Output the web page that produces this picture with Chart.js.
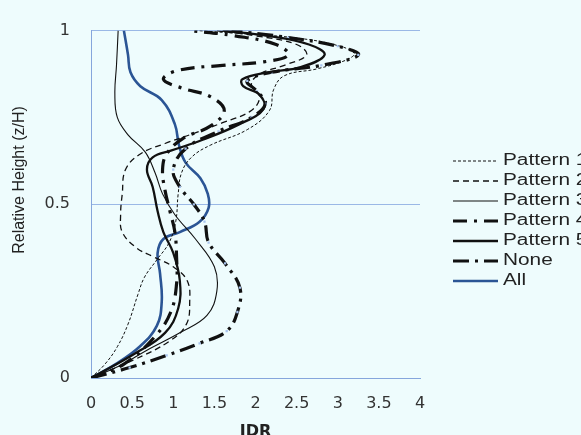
<!DOCTYPE html>
<html>
<head>
<meta charset="utf-8">
<script src="https://cdn.jsdelivr.net/npm/chart.js@4.4.0/dist/chart.umd.min.js"></script>
<style>
  html, body { margin: 0; padding: 0; width: 581px; height: 435px; overflow: hidden; background: #eefcfd; }
  #wrap { width: 600px; height: 445px; }
</style>
</head>
<body>
<div id="wrap"><canvas id="chart0" width="600" height="445"></canvas></div>
<script>
// profiles: [IDR, relative height z/H]
const seriesNames = ['Pattern 1', 'Pattern 2', 'Pattern 3', 'Pattern 4', 'Pattern 5', 'None', 'All'];

const pattern1 = [[0,0],[0.17,0.04],[0.32,0.09],[0.45,0.155],[0.57,0.24],[0.65,0.29],[0.8,0.34],[0.95,0.39],[1.03,0.45],[1.06,0.53],[1.1,0.59],[1.22,0.635],[1.45,0.67],[1.9,0.715],[2.17,0.77],[2.22,0.83],[2.35,0.87],[2.75,0.89],[3.1,0.915],[3.2,0.935],[2.95,0.96],[2.45,0.98],[1.9,0.99],[1.3,1.0]];
const pattern2 = [[0,0],[0.5,0.05],[0.96,0.107],[1.16,0.155],[1.2,0.22],[1.17,0.28],[1.0,0.32],[0.75,0.35],[0.55,0.375],[0.38,0.42],[0.36,0.47],[0.38,0.53],[0.42,0.6],[0.6,0.645],[0.9,0.675],[1.2,0.7],[1.6,0.735],[1.95,0.77],[2.05,0.81],[1.95,0.845],[2.05,0.875],[2.35,0.9],[2.62,0.93],[2.5,0.96],[2.0,0.985],[1.5,1.0]];
const pattern3 = [[0,0],[0.35,0.035],[0.68,0.08],[1.08,0.13],[1.41,0.18],[1.53,0.25],[1.5,0.32],[1.27,0.4],[1.02,0.47],[0.87,0.53],[0.78,0.59],[0.66,0.65],[0.45,0.7],[0.32,0.75],[0.29,0.82],[0.31,0.9],[0.33,1.0]];
const pattern4 = [[0,0],[0.4,0.04],[0.78,0.12],[0.97,0.19],[1.04,0.27],[1.04,0.35],[1.02,0.42],[0.96,0.48],[0.9,0.54],[0.87,0.6],[0.92,0.645],[1.12,0.69],[1.45,0.725],[1.62,0.77],[1.45,0.81],[1.1,0.835],[0.88,0.86],[1.05,0.885],[1.6,0.9],[2.1,0.91],[2.4,0.93],[2.25,0.96],[1.75,0.985],[1.2,1.0]];
const pattern5 = [[0,0],[0.53,0.07],[0.9,0.13],[1.06,0.2],[1.08,0.28],[1.0,0.36],[0.88,0.42],[0.81,0.48],[0.75,0.55],[0.68,0.6],[0.75,0.635],[0.98,0.655],[1.35,0.685],[1.8,0.73],[2.1,0.775],[2.05,0.815],[1.85,0.84],[1.84,0.86],[2.15,0.88],[2.55,0.895],[2.84,0.93],[2.65,0.96],[2.15,0.985],[1.6,1.0]];
const noneSeries = [[0,0],[0.47,0.03],[0.92,0.065],[1.32,0.1],[1.65,0.135],[1.78,0.19],[1.81,0.26],[1.63,0.33],[1.43,0.39],[1.38,0.45],[1.25,0.5],[1.08,0.55],[1.0,0.6],[1.15,0.66],[1.55,0.71],[1.95,0.75],[2.12,0.79],[2.02,0.825],[1.9,0.855],[2.2,0.88],[2.8,0.9],[3.25,0.93],[3.0,0.955],[2.4,0.98],[1.7,1.0]];
const allSeries = [[0,0],[0.3,0.04],[0.59,0.09],[0.8,0.15],[0.86,0.22],[0.84,0.3],[0.81,0.36],[0.88,0.4],[1.08,0.42],[1.32,0.45],[1.43,0.49],[1.42,0.53],[1.33,0.575],[1.15,0.62],[1.07,0.67],[1.02,0.73],[0.86,0.8],[0.6,0.84],[0.48,0.88],[0.45,0.93],[0.4,1.0]];

const xTicks = [0, 0.5, 1, 1.5, 2, 2.5, 3, 3.5, 4];
const yTicks = [0, 0.5, 1];

const toPts = arr => arr.map(p => ({ x: p[0], y: p[1] }));

function line(label, data, width, dash, color) {
  return {
    label: label,
    data: toPts(data),
    showLine: true,
    tension: 0.4,
    borderColor: color || '#111',
    borderWidth: width,
    borderDash: dash,
    pointRadius: 0,
    fill: false
  };
}

const datasets = [
  line(seriesNames[0], pattern1, 1, [3, 2]),
  line(seriesNames[1], pattern2, 1.3, [6, 4]),
  line(seriesNames[2], pattern3, 1.1, []),
  line(seriesNames[3], pattern4, 3.2, [14, 7, 3, 7]),
  line(seriesNames[4], pattern5, 2.3, []),
  line(seriesNames[5], noneSeries, 3.2, [16, 6, 3, 6]),
  line(seriesNames[6], allSeries, 2.6, [], '#2b5595')
];
// light blue markers on the None profile
datasets[5].pointRadius = 1.6;
datasets[5].pointStyle = 'rect';
datasets[5].pointBackgroundColor = '#a8c4ee';
datasets[5].pointBorderWidth = 0;

// legend at the right and the y axis title
const extraText = {
  id: 'extraText',
  afterDraw(chart) {
    const ctx = chart.ctx;
    ctx.save();
    ctx.textBaseline = 'middle';
    ctx.fillStyle = '#222';
    chart.data.datasets.forEach((ds, i) => {
      const y = 161 + i * 20;
      ctx.beginPath();
      ctx.setLineDash(ds.borderDash || []);
      ctx.lineWidth = ds.borderWidth;
      ctx.strokeStyle = ds.borderColor;
      ctx.moveTo(453, y);
      ctx.lineTo(498, y);
      ctx.stroke();
      ctx.save();
      ctx.translate(503, y);
      ctx.scale(1.3, 1);
      ctx.font = '16px "Liberation Sans", Arial, sans-serif';
      ctx.fillText(ds.label, 0, 0);
      ctx.restore();
    });
    ctx.setLineDash([]);
    ctx.translate(20, 180);
    ctx.rotate(-Math.PI / 2);
    ctx.textAlign = 'center';
    ctx.font = '16px "Liberation Sans", Arial, sans-serif';
    ctx.fillText('Relative Height (z/H)', 0, 0);
    ctx.restore();
  }
};

const tickFont = { family: '"DejaVu Sans", sans-serif', size: 16 };
const tickText = v => String(v);

new Chart(document.getElementById('chart0').getContext('2d'), {
  type: 'scatter',
  data: { datasets: datasets },
  options: {
    responsive: false,
    animation: false,
    layout: { padding: { left: 0, top: 24, right: 180, bottom: 0 } },
    plugins: { legend: { display: false }, tooltip: { enabled: false } },
    scales: {
      x: {
        type: 'linear', min: 0, max: 4,
        afterBuildTicks: s => { s.ticks = xTicks.map(v => ({ value: v })); },
        afterFit: s => { s.height = 67; },
        grid: { display: false, drawTicks: false },
        border: { display: true, color: '#86a6dc', width: 1 },
        ticks: { padding: 16, font: tickFont, color: '#333', callback: tickText },
        title: { display: true, text: 'IDR', color: '#222', padding: { top: 0, bottom: 4 },
                 font: { family: '"DejaVu Sans", sans-serif', size: 16, weight: 'bold' } }
      },
      y: {
        type: 'linear', min: 0, max: 1,
        afterBuildTicks: s => { s.ticks = yTicks.map(v => ({ value: v })); },
        afterFit: s => { s.width = 91; },
        grid: { color: '#9ab8e6', drawTicks: false },
        border: { display: true, color: '#86a6dc', width: 1 },
        ticks: { padding: 21, font: tickFont, color: '#333', callback: tickText }
      }
    }
  },
  plugins: [extraText]
});
</script>
</body>
</html>
